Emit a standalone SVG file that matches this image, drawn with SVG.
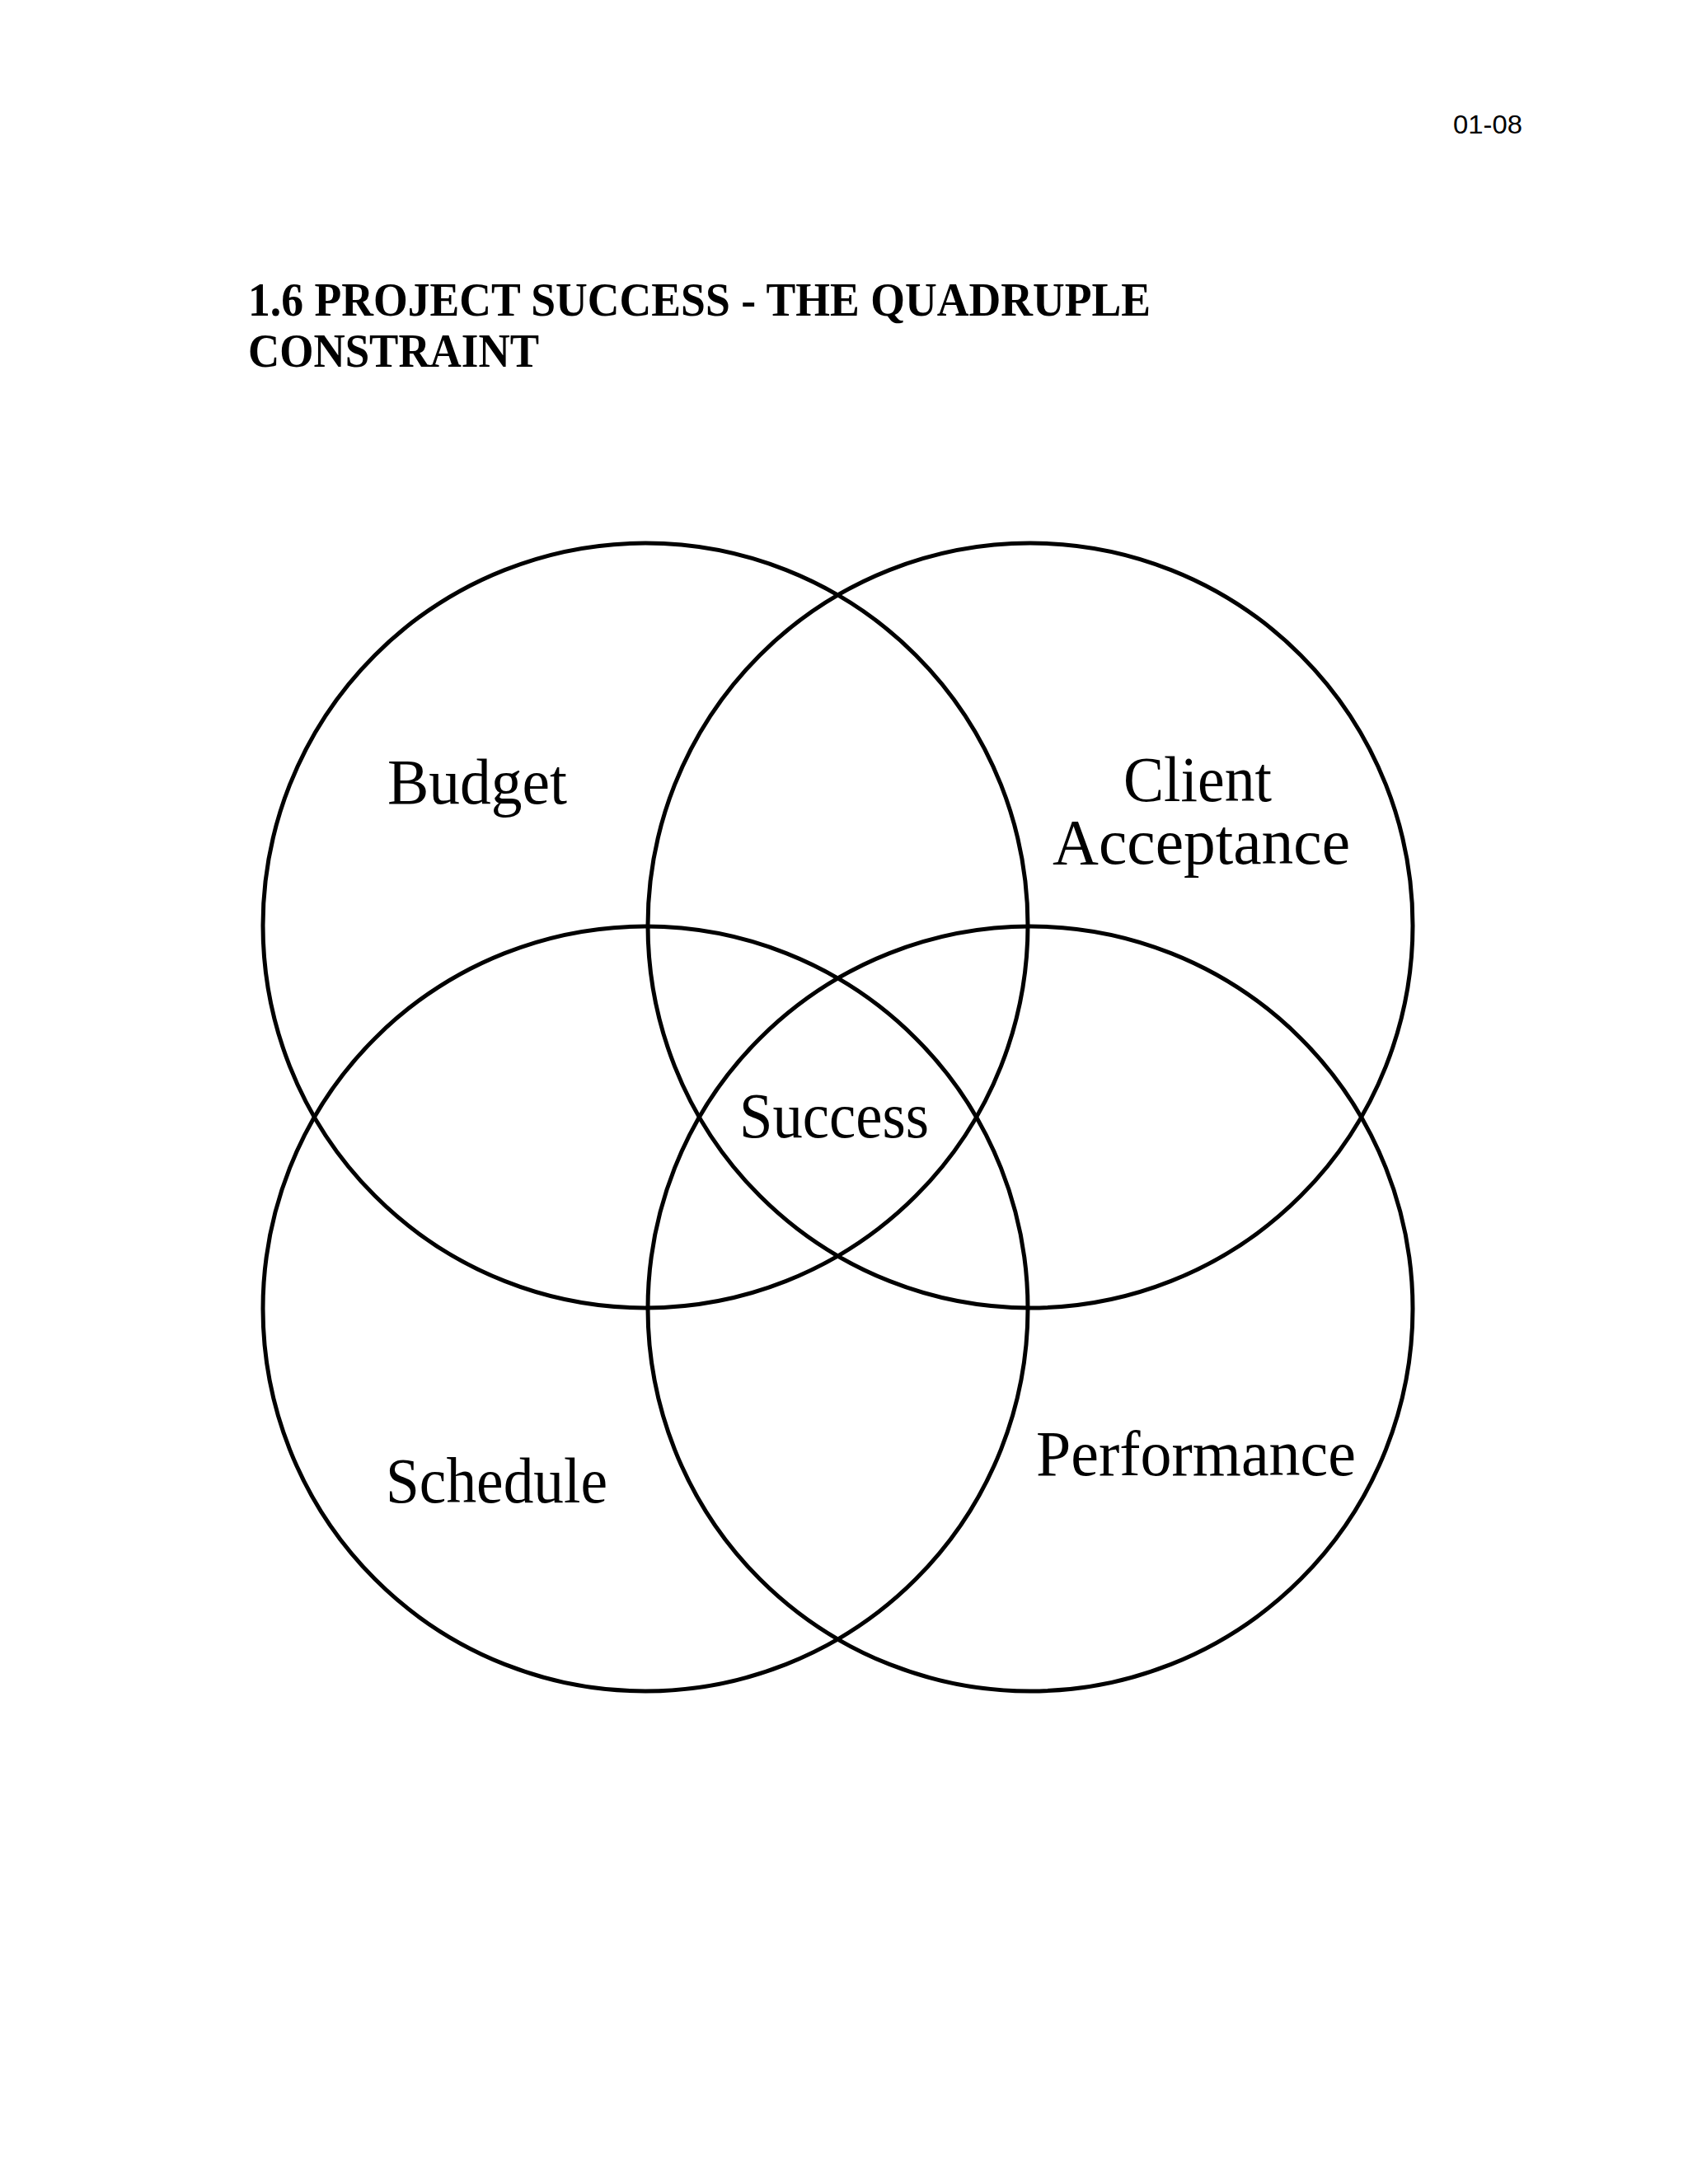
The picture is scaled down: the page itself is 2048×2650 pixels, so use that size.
<svg xmlns="http://www.w3.org/2000/svg" width="2048" height="2650" viewBox="0 0 2048 2650">
<style>
.c{fill:none;stroke:#000;stroke-width:5}
.lbl{font-family:"Liberation Serif","Times New Roman",serif;font-size:78px;fill:#000}
.ttl{font-family:"Liberation Serif","Times New Roman",serif;font-size:58px;font-weight:bold;fill:#000}
.pg{font-family:"Liberation Sans",Arial,sans-serif;font-size:32px;fill:#000}
</style>
<rect width="2048" height="2650" fill="#fff"/>
<text class="pg" x="1763" y="162" textLength="84" lengthAdjust="spacingAndGlyphs">01-08</text>
<text class="ttl" x="301" y="383" textLength="1095" lengthAdjust="spacingAndGlyphs">1.6 PROJECT SUCCESS - THE QUADRUPLE</text>
<text class="ttl" x="301" y="445" textLength="353" lengthAdjust="spacingAndGlyphs">CONSTRAINT</text>
<g id="connectors"></g>
<g id="budget"><circle class="c" cx="783" cy="1123" r="464"/><text class="lbl" x="470" y="975" textLength="218" lengthAdjust="spacingAndGlyphs">Budget</text></g>
<g id="client"><circle class="c" cx="1250" cy="1123" r="464"/><text class="lbl" x="1363" y="972" textLength="180" lengthAdjust="spacingAndGlyphs">Client</text><text class="lbl" x="1277" y="1048" textLength="361" lengthAdjust="spacingAndGlyphs">Acceptance</text></g>
<g id="schedule"><circle class="c" cx="783" cy="1588" r="464"/><text class="lbl" x="468" y="1823" textLength="269" lengthAdjust="spacingAndGlyphs">Schedule</text></g>
<g id="performance"><circle class="c" cx="1250" cy="1588" r="464"/><text class="lbl" x="1257" y="1790" textLength="388" lengthAdjust="spacingAndGlyphs">Performance</text></g>
<g id="success"><text class="lbl" x="897" y="1380" textLength="230" lengthAdjust="spacingAndGlyphs">Success</text></g>
</svg>
